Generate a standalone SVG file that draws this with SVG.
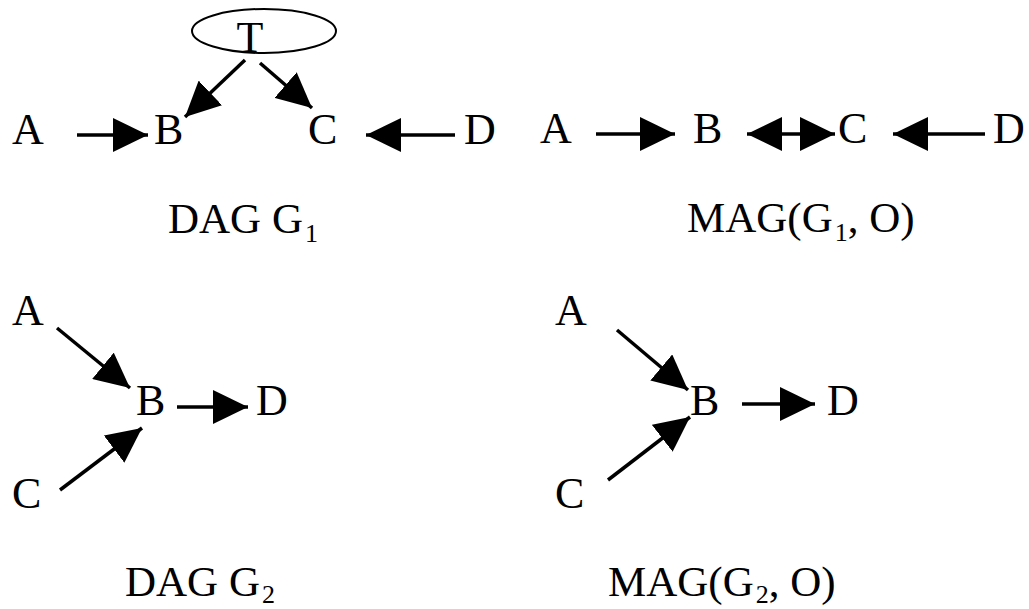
<svg xmlns="http://www.w3.org/2000/svg" width="1029" height="609" viewBox="0 0 1029 609">
<style>
.n{font-family:"Liberation Serif","Times New Roman",serif;font-size:44px;fill:#000}
.l{font-family:"Liberation Serif","Times New Roman",serif;font-size:43px;fill:#000}
.s{font-size:26px}
.e{stroke:#000;stroke-width:3.5;fill:none}
</style>
<defs>
<marker id="ah" markerUnits="userSpaceOnUse" markerWidth="36" markerHeight="34" refX="35" refY="17" orient="auto-start-reverse" viewBox="0 0 36 34">
<path d="M0,0 L35,17 L0,34 z" fill="#000"/>
</marker>
</defs>
<rect width="1029" height="609" fill="#fff"/>
<g id="connectors">
<line class="e" x1="77" y1="135" x2="148" y2="135" marker-end="url(#ah)"/>
<line class="e" x1="455" y1="135" x2="366" y2="135" marker-end="url(#ah)"/>
<line class="e" x1="245" y1="60" x2="185" y2="117" marker-end="url(#ah)"/>
<line class="e" x1="260" y1="63" x2="312" y2="108" marker-end="url(#ah)"/>
<line class="e" x1="596" y1="134" x2="675" y2="134" marker-end="url(#ah)"/>
<line class="e" x1="747" y1="134" x2="835" y2="134" marker-start="url(#ah)" marker-end="url(#ah)"/>
<line class="e" x1="985" y1="134" x2="893" y2="134" marker-end="url(#ah)"/>
<line class="e" x1="57" y1="328" x2="130" y2="388" marker-end="url(#ah)"/>
<line class="e" x1="60" y1="490" x2="142" y2="428" marker-end="url(#ah)"/>
<line class="e" x1="177" y1="407" x2="248" y2="407" marker-end="url(#ah)"/>
<line class="e" x1="617" y1="330" x2="688" y2="390" marker-end="url(#ah)"/>
<line class="e" x1="608" y1="480" x2="690" y2="417" marker-end="url(#ah)"/>
<line class="e" x1="742" y1="404" x2="815" y2="404" marker-end="url(#ah)"/>
</g>
<g id="g1-T"><ellipse cx="264" cy="31" rx="72" ry="22" fill="none" stroke="#000" stroke-width="2"/><text class="n" x="250" y="52" text-anchor="middle" font-size="40">T</text></g>
<g id="g1-A"><text class="n" x="12" y="144">A</text></g>
<g id="g1-B"><text class="n" x="154" y="144">B</text></g>
<g id="g1-C"><text class="n" x="308" y="144">C</text></g>
<g id="g1-D"><text class="n" x="464" y="144">D</text></g>
<g id="g1-label"><text class="l" x="168" y="233">DAG G<tspan class="s" dx="2" dy="9">1</tspan></text></g>
<g id="m1-A"><text class="n" x="540" y="143">A</text></g>
<g id="m1-B"><text class="n" x="693" y="143">B</text></g>
<g id="m1-C"><text class="n" x="838" y="143">C</text></g>
<g id="m1-D"><text class="n" x="993" y="143">D</text></g>
<g id="m1-label"><text class="l" x="687" y="232">MAG(G<tspan class="s" dx="2" dy="9">1</tspan><tspan dy="-9">, O)</tspan></text></g>
<g id="g2-A"><text class="n" x="12" y="325">A</text></g>
<g id="g2-B"><text class="n" x="136" y="415">B</text></g>
<g id="g2-C"><text class="n" x="12" y="508">C</text></g>
<g id="g2-D"><text class="n" x="256" y="415">D</text></g>
<g id="g2-label"><text class="l" x="125" y="596">DAG G<tspan class="s" dx="2" dy="7">2</tspan></text></g>
<g id="m2-A"><text class="n" x="555" y="325">A</text></g>
<g id="m2-B"><text class="n" x="690" y="415">B</text></g>
<g id="m2-C"><text class="n" x="555" y="508">C</text></g>
<g id="m2-D"><text class="n" x="827" y="415">D</text></g>
<g id="m2-label"><text class="l" x="608" y="596">MAG(G<tspan class="s" dx="2" dy="7">2</tspan><tspan dy="-7">, O)</tspan></text></g>
</svg>
